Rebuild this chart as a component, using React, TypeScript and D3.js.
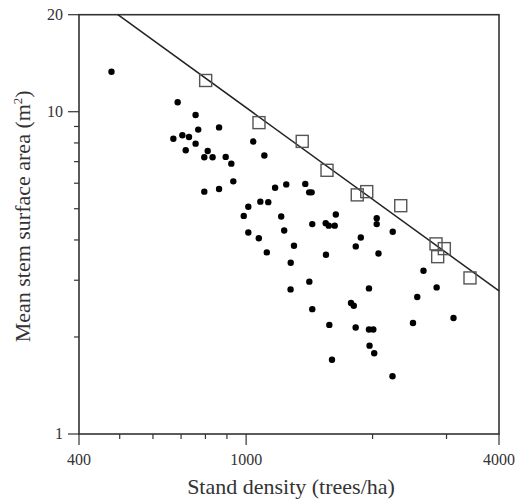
import React, { useEffect, useRef } from "react";
import * as d3 from "d3";

// stand density (trees/ha) and mean stem surface area (m2), filled dots
const densityDots = [
  478, 687, 758, 769, 862, 671, 705, 731, 758, 718, 810, 795, 832, 894, 922, 932, 795, 862,
  1040, 1105, 1172, 1246, 1383, 1413, 1432, 1012, 1081, 1129, 987, 1212, 1635, 1437, 1547,
  1573, 1625, 2046, 2046, 1232, 1012, 1072, 1300, 1875, 1824, 2234, 1120, 1277, 1549, 2066,
  2644, 1414, 1276, 1961, 2842, 2555, 1777, 1804, 1437, 3117, 1578, 2496, 1823, 1961, 2008,
  1967, 2018, 1601, 2231,
];
const areaDots = [
  13.3, 10.7, 9.77, 8.8, 8.94, 8.24, 8.45, 8.35, 7.96, 7.59, 7.55, 7.22, 7.22, 7.24, 6.9, 6.08,
  5.65, 5.76, 8.08, 7.31, 5.81, 5.95, 5.97, 5.62, 5.62, 5.07, 5.26, 5.24, 4.75, 4.73, 4.8, 4.48,
  4.51, 4.43, 4.43, 4.67, 4.48, 4.28, 4.22, 4.05, 3.84, 4.07, 3.82, 4.24, 3.66, 3.4, 3.6, 3.63,
  3.21, 2.97, 2.81, 2.83, 2.85, 2.66, 2.55, 2.5, 2.44, 2.29, 2.18, 2.21, 2.14, 2.11, 2.11, 1.88,
  1.78, 1.7, 1.51,
];

// open squares
const densitySquares = [801, 1073, 1360, 1558, 1839, 1937, 2334, 2832, 2964, 2858, 3412];
const areaSquares = [12.5, 9.25, 8.09, 6.58, 5.52, 5.65, 5.11, 3.89, 3.76, 3.55, 3.05];

// boundary line
const lineDensity = [495, 4000];
const lineArea = [20, 2.78];

const xMajor = [400, 1000, 4000];
const xMinor = [500, 600, 700, 800, 900, 2000, 3000];
const yMajor = [1, 10, 20];
const yMinor = [2, 3, 4, 5, 6, 7, 8, 9];

const App = () => {
  const ref = useRef<SVGSVGElement>(null);

  useEffect(() => {
    const width = 519;
    const height = 500;
    const left = 79;
    const right = 499;
    const top = 14.7;
    const bottom = 434;
    const ink = "#333";
    const font = "'Liberation Serif', 'Times New Roman', serif";

    const svg = d3.select(ref.current);
    svg.selectAll("*").remove();
    svg.attr("width", width).attr("height", height);

    const x = d3.scaleLog().domain([400, 4000]).range([left, right]);
    const y = d3.scaleLog().domain([1, 20]).range([bottom, top]);

    // frame
    svg.append("rect")
      .attr("x", left)
      .attr("y", top)
      .attr("width", right - left)
      .attr("height", bottom - top)
      .attr("fill", "none")
      .attr("stroke", ink)
      .attr("stroke-width", 1.6);

    // x ticks
    const gx = svg.append("g").attr("stroke", ink).attr("stroke-width", 1.2);
    gx.selectAll("line.major")
      .data(xMajor)
      .join("line")
      .attr("class", "major")
      .attr("x1", (d) => x(d))
      .attr("x2", (d) => x(d))
      .attr("y1", bottom)
      .attr("y2", bottom + 11);
    gx.selectAll("line.minor")
      .data(xMinor)
      .join("line")
      .attr("class", "minor")
      .attr("x1", (d) => x(d))
      .attr("x2", (d) => x(d))
      .attr("y1", bottom)
      .attr("y2", bottom + 5);

    svg.append("g")
      .selectAll("text")
      .data(xMajor)
      .join("text")
      .attr("x", (d) => x(d))
      .attr("y", bottom + 31)
      .attr("text-anchor", "middle")
      .attr("font-family", font)
      .attr("font-size", 16)
      .attr("fill", ink)
      .text((d) => d);

    // y ticks
    const gy = svg.append("g").attr("stroke", ink).attr("stroke-width", 1.2);
    gy.selectAll("line.major")
      .data(yMajor)
      .join("line")
      .attr("class", "major")
      .attr("x1", left)
      .attr("x2", left - 11)
      .attr("y1", (d) => y(d))
      .attr("y2", (d) => y(d));
    gy.selectAll("line.minor")
      .data(yMinor)
      .join("line")
      .attr("class", "minor")
      .attr("x1", left)
      .attr("x2", left - 5)
      .attr("y1", (d) => y(d))
      .attr("y2", (d) => y(d));

    svg.append("g")
      .selectAll("text")
      .data(yMajor)
      .join("text")
      .attr("x", left - 16)
      .attr("y", (d) => y(d))
      .attr("dy", "0.34em")
      .attr("text-anchor", "end")
      .attr("font-family", font)
      .attr("font-size", 16)
      .attr("fill", ink)
      .text((d) => d);

    // axis titles
    svg.append("text")
      .attr("x", (left + right) / 2 + 2)
      .attr("y", 494)
      .attr("text-anchor", "middle")
      .attr("font-family", font)
      .attr("font-size", 22)
      .attr("fill", ink)
      .text("Stand density (trees/ha)");

    const yt = svg.append("text")
      .attr("transform", `translate(30,${(top + bottom) / 2 - 8}) rotate(-90)`)
      .attr("text-anchor", "middle")
      .attr("font-family", font)
      .attr("font-size", 22)
      .attr("fill", ink);
    yt.append("tspan").text("Mean stem surface area (m");
    yt.append("tspan").attr("font-size", 13).attr("dy", -8).text("2");
    yt.append("tspan").attr("dy", 8).text(")");

    // boundary line
    const line = d3
      .line<number>()
      .x((d, i) => x(lineDensity[i]))
      .y((d) => y(d));
    svg.append("path")
      .datum(lineArea)
      .attr("d", line)
      .attr("fill", "none")
      .attr("stroke", "#222")
      .attr("stroke-width", 1.5);

    // dots
    svg.append("g")
      .attr("fill", "#000")
      .selectAll("circle")
      .data(d3.range(densityDots.length))
      .join("circle")
      .attr("cx", (i) => x(densityDots[i]))
      .attr("cy", (i) => y(areaDots[i]))
      .attr("r", 3.2);

    // squares
    const s = 12;
    svg.append("g")
      .attr("fill", "none")
      .attr("stroke", "#555")
      .attr("stroke-width", 1.4)
      .selectAll("rect")
      .data(d3.range(densitySquares.length))
      .join("rect")
      .attr("x", (i) => x(densitySquares[i]) - s / 2)
      .attr("y", (i) => y(areaSquares[i]) - s / 2)
      .attr("width", s)
      .attr("height", s);
  }, []);

  return (
    <svg
      ref={ref}
      style={{ position: "absolute", left: 0, top: 0, display: "block", background: "#fff" }}
    />
  );
};

export default App;
